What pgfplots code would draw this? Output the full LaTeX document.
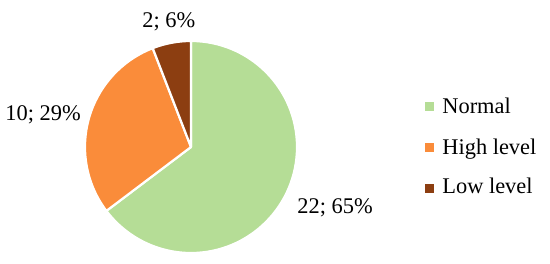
\documentclass[border=0pt]{standalone}
\usepackage{fontspec}
\setmainfont{Liberation Serif}
\usepackage{pgfplots}
\pgfplotsset{compat=1.18}
\definecolor{cNormal}{RGB}{181,221,150}
\definecolor{cHigh}{RGB}{250,140,58}
\definecolor{cLow}{RGB}{140,62,17}

% counts per category
\def\vNormal{22}
\def\vHigh{10}
\def\vLow{2}
\pgfmathsetmacro{\tot}{\vNormal+\vHigh+\vLow}
\pgfmathsetmacro{\aA}{90-360*\vNormal/\tot}
\pgfmathsetmacro{\aB}{\aA-360*\vHigh/\tot}

\begin{document}
\begin{tikzpicture}[font=\fontsize{11.2}{13}\selectfont]
\begin{axis}[
  name=ax,
  width=275pt, height=131.5pt, scale only axis,
  xmin=0, xmax=550, ymin=0, ymax=263,
  hide axis, clip=false,
]
\filldraw[fill=cNormal, draw=white, line width=1.1pt, line join=round]
  (axis cs:191,116) -- ++(90:53pt) arc[start angle=90, end angle=\aA, radius=53pt] -- cycle;
\filldraw[fill=cHigh, draw=white, line width=1.1pt, line join=round]
  (axis cs:191,116) -- ++(\aA:53pt) arc[start angle=\aA, end angle=\aB, radius=53pt] -- cycle;
\filldraw[fill=cLow, draw=white, line width=1.1pt, line join=round]
  (axis cs:191,116) -- ++(\aB:53pt) arc[start angle=\aB, end angle=-270, radius=53pt] -- cycle;

\node[anchor=base west, inner sep=0pt] at (axis cs:142,235) {2; 6\%};
\node[anchor=base west, inner sep=0pt] at (axis cs:5,143) {10; 29\%};
\node[anchor=base west, inner sep=0pt] at (axis cs:297,50) {22; 65\%};

\fill[cNormal] (axis cs:425,152.5) rectangle (axis cs:434,161.5);
\fill[cHigh] (axis cs:425,111.5) rectangle (axis cs:434,120.5);
\fill[cLow] (axis cs:425,70.5) rectangle (axis cs:434,79.5);
\node[anchor=base west, inner sep=0pt] at (axis cs:442,150) {Normal};
\node[anchor=base west, inner sep=0pt] at (axis cs:442,109) {High level};
\node[anchor=base west, inner sep=0pt] at (axis cs:442,70) {Low level};
\end{axis}
\pgfresetboundingbox
\path (ax.south west) rectangle (ax.north east);
\end{tikzpicture}
\end{document}
